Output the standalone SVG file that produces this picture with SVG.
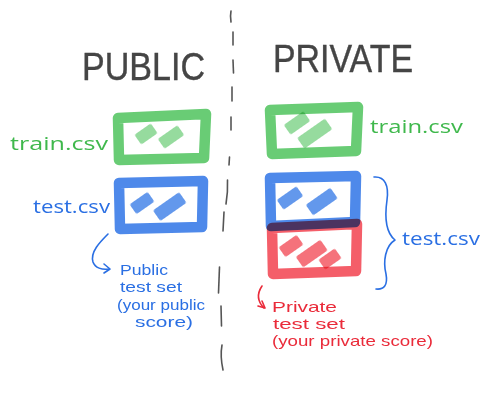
<svg xmlns="http://www.w3.org/2000/svg" width="500" height="412" viewBox="0 0 500 412">
  <style>
    .title { font-family: "Liberation Sans", "DejaVu Sans", sans-serif; font-size: 39px; fill: #454545; stroke: #454545; stroke-width: 0.4; }
    .label { font-family: "Open Sans", "Liberation Sans", sans-serif; font-size: 19px; }
    .note { font-family: "Liberation Sans", "DejaVu Sans", sans-serif; font-size: 14.5px; }
    .green { fill: #3fb84c; }
    .blue { fill: #2a6fe3; }
    .red { fill: #ea2b3a; }
    .frame { fill: none; stroke-width: 10.5; stroke-linejoin: round; stroke-linecap: round; stroke-opacity: 0.85; mix-blend-mode: multiply; }
    .chip { mix-blend-mode: multiply; filter: url(#soft); }
    .g-frame { stroke: #4fc35d; }
    .b-frame { stroke: #2f74e6; }
    .r-frame { stroke: #f2424f; }
    .g-chip { fill: #4fc35d; opacity: 0.6; }
    .b-chip { fill: #2f74e6; opacity: 0.75; }
    .r-chip { fill: #f2424f; opacity: 0.75; }
    .divider { fill: none; stroke: #555; stroke-width: 1.6; stroke-linecap: round; }
    .pen { fill: none; stroke-width: 1.6; stroke-linecap: round; stroke-linejoin: round; }
  </style>
  <defs>
    <filter id="soft" x="-20%" y="-20%" width="140%" height="140%">
      <feGaussianBlur stdDeviation="0.7"/>
    </filter>
  </defs>

  <rect width="500" height="412" fill="#ffffff"/>

  <!-- hand-drawn dashed divider -->
  <g id="divider" class="divider">
    <path d="M231,11 Q230,16 231,22"/>
    <path d="M233,32 L233,45"/>
    <path d="M233,60 L233.5,73"/>
    <path d="M232,87 L232,101"/>
    <path d="M231,117 L231,130"/>
    <path d="M229.5,157 L229,165"/>
    <path d="M227.5,180 Q228,192 226,204"/>
    <path d="M224,212 L223,231"/>
    <path d="M219.5,267 L218.5,293"/>
    <path d="M221,306 L221.5,326"/>
    <path d="M222,345 Q220,356 223,370"/>
  </g>

  <!-- headings -->
  <text id="title-public" class="title" x="82" y="80" textLength="123" lengthAdjust="spacingAndGlyphs">PUBLIC</text>
  <text id="title-private" class="title" x="273" y="72" textLength="140" lengthAdjust="spacingAndGlyphs">PRIVATE</text>

  <!-- public train.csv -->
  <g id="public-train">
    <path class="frame g-frame" d="M118,118 L206,114 L204,158 L119,160 Z"/>
    <rect class="chip g-chip" x="136" y="128" width="20" height="12" rx="2" transform="rotate(-35 146 134)"/>
    <rect class="chip g-chip" x="159" y="131" width="24" height="12" rx="2" transform="rotate(-35 171 137)"/>
    <text class="label green" x="10" y="150" textLength="98" lengthAdjust="spacingAndGlyphs">train.csv</text>
  </g>

  <!-- public test.csv -->
  <g id="public-test">
    <path class="frame b-frame" d="M119,183 L203,181 L202,227 L120,229 Z"/>
    <rect class="chip b-chip" x="131" y="197" width="22" height="12" rx="2" transform="rotate(-35 142 203)"/>
    <rect class="chip b-chip" x="154" y="200" width="32" height="13" rx="2" transform="rotate(-35 170 207)"/>
    <text class="label blue" x="33" y="213" textLength="77" lengthAdjust="spacingAndGlyphs">test.csv</text>
  </g>

  <!-- private train.csv -->
  <g id="private-train">
    <path class="frame g-frame" d="M270,110 L358,107 L356,151 L272,154 Z"/>
    <rect class="chip g-chip" x="285" y="117" width="24" height="12" rx="2" transform="rotate(-35 297 123)"/>
    <rect class="chip g-chip" x="298" y="127" width="34" height="13" rx="2" transform="rotate(-35 315 134)"/>
    <text class="label green" x="370" y="133" textLength="93" lengthAdjust="spacingAndGlyphs">train.csv</text>
  </g>

  <!-- private test.csv, public part -->
  <g id="private-test-public">
    <path class="frame b-frame" d="M270,178 L356,176 L355,222 L271,226 Z"/>
    <rect class="chip b-chip" x="278" y="192" width="24" height="12" rx="2" transform="rotate(-35 290 198)"/>
    <rect class="chip b-chip" x="307" y="195" width="30" height="13" rx="2" transform="rotate(-35 322 202)"/>
  </g>

  <!-- private test.csv, private part -->
  <g id="private-test-private">
    <path class="frame r-frame" d="M272,228 L357,224 L356,271 L273,274 Z"/>
    <rect class="chip r-chip" x="280" y="240" width="22" height="12" rx="2" transform="rotate(-35 291 246)"/>
    <rect class="chip r-chip" x="297" y="247" width="30" height="13" rx="2" transform="rotate(-35 312 254)"/>
    <rect class="chip r-chip" x="320" y="253" width="20" height="12" rx="2" transform="rotate(-35 330 259)"/>
  </g>

  <!-- brace and label for private test.csv -->
  <g id="test-brace">
    <path class="pen" stroke="#2a6fe3" d="M374,177 C385,176 389,186 387,200 C385,214 385,232 395,240 C385,246 383,262 386,274 C388,285 384,290 376,289"/>
    <text class="label blue" x="402" y="245" textLength="78" lengthAdjust="spacingAndGlyphs">test.csv</text>
  </g>

  <!-- public score note -->
  <g id="public-note">
    <path class="pen" stroke="#2a6fe3" d="M108,234 C100,242 90,252 93,262 C95,268 102,270 109,269"/>
    <path class="pen" stroke="#2a6fe3" d="M104,264 L110,269 L104,273"/>
    <text class="note blue" x="120" y="275" textLength="48" lengthAdjust="spacingAndGlyphs">Public</text>
    <text class="note blue" x="120" y="292" textLength="62" lengthAdjust="spacingAndGlyphs">test set</text>
    <text class="note blue" x="117" y="310" textLength="88" lengthAdjust="spacingAndGlyphs">(your public</text>
    <text class="note blue" x="135" y="327" textLength="58" lengthAdjust="spacingAndGlyphs">score)</text>
  </g>

  <!-- private score note -->
  <g id="private-note">
    <path class="pen" stroke="#ea2b3a" d="M262,286 C258,292 256,300 264,308"/>
    <path class="pen" stroke="#ea2b3a" d="M258,306 L265,308 L262,301"/>
    <text class="note red" x="272" y="312" textLength="65" lengthAdjust="spacingAndGlyphs">Private</text>
    <text class="note red" x="273" y="329" textLength="72" lengthAdjust="spacingAndGlyphs">test set</text>
    <text class="note red" x="272" y="346" textLength="161" lengthAdjust="spacingAndGlyphs">(your private score)</text>
  </g>
</svg>
